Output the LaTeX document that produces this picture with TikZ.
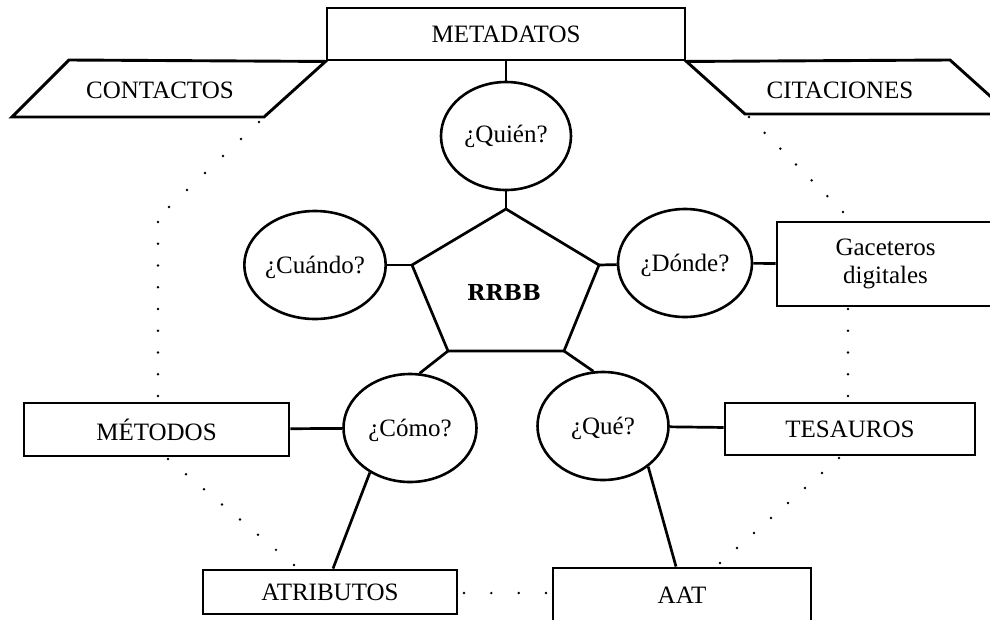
\documentclass[tikz,border=0pt]{standalone}
\usepackage{fontspec}
\setmainfont{Liberation Serif}
\newfontfamily\rrbbfont{DejaVu Serif}
\usetikzlibrary{shapes.geometric,calc}

% a row of evenly spaced dots from #1 to #2, #3 gaps
\newcommand\dotrun[3]{\foreach \k in {0,...,#3}{\fill ($(#1)!\k/#3!(#2)$) circle (1.35pt);}}

\begin{document}
\begin{tikzpicture}[x=1pt,y=-1pt,
  every node/.style={font=\fontsize{25}{27.5}\selectfont},
  outline/.style={draw=black, line width=2.9pt, line join=miter},
  box/.style={outline, rectangle, inner sep=0pt, align=center},
  question/.style={outline, ellipse, minimum width=134pt, minimum height=108pt, inner sep=0pt, line width=2.6pt},
  link/.style={draw=black, line width=2.7pt},
  label/.style={inner sep=0pt},
]
\useasboundingbox (0,0) rectangle (990,619);
\clip (0,0) rectangle (990,619);

% outer boxes
\node[box, minimum width=358pt, minimum height=52pt] (metadatos) at (506,34) {METADATOS};
\node[box, minimum width=265pt, minimum height=53pt] (metodos) at (156.5,429.5) {MÉTODOS};
\node[box, minimum width=250pt, minimum height=52pt] (tesauros) at (850,429) {TESAUROS};
\node[box, minimum width=254pt, minimum height=44pt] (atributos) at (330,592) {ATRIBUTOS};
\node[box, minimum width=258pt, minimum height=54pt] (aat) at (682,595) {AAT};
\node[box, minimum width=217pt, minimum height=84pt] (gaceteros) at (885.5,264) {Gaceteros\\digitales};

% slanted boxes on both sides of the title
\coordinate (ca) at (12,117);
\coordinate (cb) at (69,60);
\coordinate (cd) at (264,117);
\draw[outline] (ca) -- (cb) -- (metadatos.south west) -- (cd) -- cycle;
\node[label] (contactos) at (160,90) {CONTACTOS};

\coordinate (tb) at (950,60);
\coordinate (tc) at (1010,114);
\coordinate (td) at (745,114);
\draw[outline] (metadatos.south east) -- (tb) -- (tc) -- (td) -- cycle;
\node[label] (citaciones) at (840,90) {CITACIONES};

% central pentagon
\coordinate (pt) at (506,209);
\coordinate (pl) at (412,265);
\coordinate (pr) at (599,265);
\coordinate (pbl) at (448,351);
\coordinate (pbr) at (564,351);
\draw[outline, line width=2.7pt] (pt) -- (pr) -- (pbr) -- (pbl) -- (pl) -- cycle;
\node[label, font=\rrbbfont\bfseries\fontsize{22}{24}\selectfont] (rrbb) at (504,292) {RRBB};

% questions
\node[question, minimum width=130pt] (quien) at (506,136) {¿Quién?};
\node[question, text depth=0pt] (cuando) at (315,265) {¿Cuándo?};
\node[question, text depth=0pt] (donde) at (685,263) {¿Dónde?};
\node[question, text depth=0pt, minimum width=133pt] (como) at (410,428) {¿Cómo?};
\node[question, text depth=0pt, minimum width=131pt] (que) at (603,426) {¿Qué?};

% solid connectors
\draw[link] (metadatos) -- (quien);
\draw[link] (quien) -- (pt);
\draw[link] (cuando) -- (pl);
\draw[link] (pr) -- (donde);
\draw[link] (pbl) -- (como.80);
\draw[link] (pbr) -- (que.100);
\draw[link] (metodos) -- (como);
\draw[link] (que) -- (tesauros);
\draw[link] (donde) -- (gaceteros);
\draw[link] (como.228) -- ([xshift=3pt]atributos.north);
\draw[link] (que.318) -- ([xshift=-6pt]aat.north);

% dotted ring
\coordinate (d1a) at (259,122); \coordinate (d1b) at (169,207);
\coordinate (d2a) at (158,222); \coordinate (d2b) at (158,396);
\coordinate (d3a) at (168,459); \coordinate (d3b) at (294,565);
\coordinate (d4a) at (464,593); \coordinate (d4b) at (546,593);
\coordinate (d5a) at (720,563); \coordinate (d5b) at (839,458);
\coordinate (d6a) at (848,396); \coordinate (d6b) at (848,309);
\coordinate (d7a) at (843,212); \coordinate (d7b) at (749,117);
\dotrun{d1a}{d1b}{5}
\dotrun{d2a}{d2b}{8}
\dotrun{d3a}{d3b}{7}
\dotrun{d4a}{d4b}{3}
\dotrun{d5a}{d5b}{7}
\dotrun{d6a}{d6b}{4}
\dotrun{d7a}{d7b}{6}
\end{tikzpicture}
\end{document}
